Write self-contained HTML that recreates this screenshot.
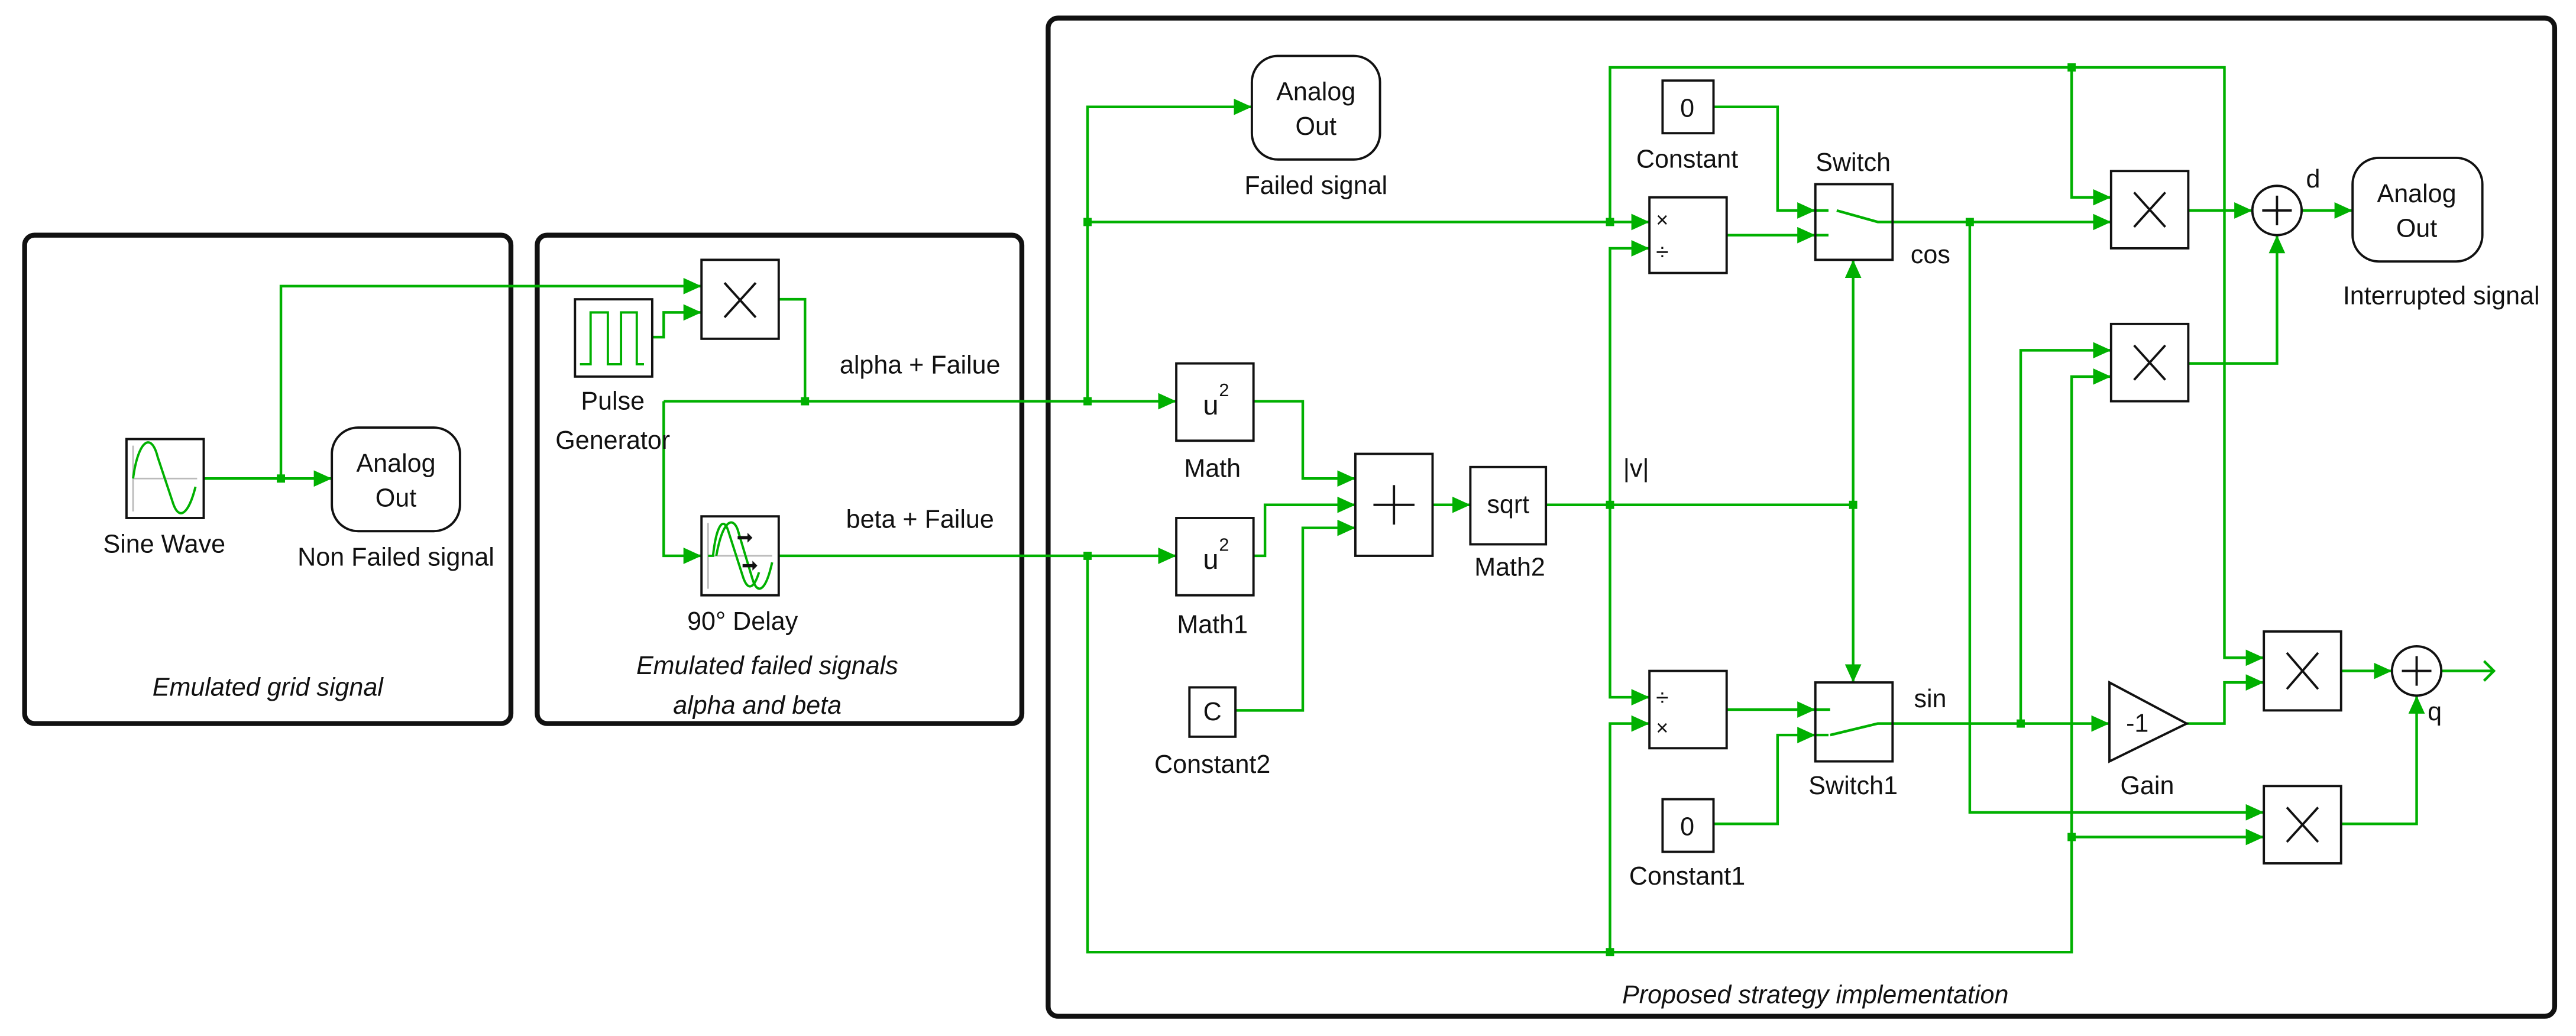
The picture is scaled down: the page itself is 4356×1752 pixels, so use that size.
<!DOCTYPE html>
<html><head><meta charset="utf-8"><style>
html,body{margin:0;padding:0;background:#fff;}
svg{display:block;}
text{font-family:"Liberation Sans",sans-serif;font-size:15.5px;fill:#111;}
.i{font-style:italic;}
</style></head><body>
<svg width="4356" height="1752" viewBox="0 0 1568 630" preserveAspectRatio="none" xmlns="http://www.w3.org/2000/svg">
<defs>
<marker id="a" markerWidth="11" markerHeight="10" refX="11" refY="5" orient="auto" markerUnits="userSpaceOnUse"><path d="M0,0 L11,5 L0,10z" fill="#00b000"/></marker>
</defs>
<rect width="1568" height="630" fill="#fff"/>
<g fill="none" stroke="#111" stroke-width="3">
<rect x="15" y="143" width="296" height="297" rx="6"/>
<rect x="327" y="143" width="295" height="297" rx="6"/>
<rect x="638" y="11" width="917" height="607" rx="6"/>
</g>
<g fill="none" stroke="#00b000" stroke-width="1.6">
<path d="M124,291 H202" marker-end="url(#a)"/>
<path d="M171,291 V174 H427" marker-end="url(#a)"/>
<path d="M397,205 H404 V190 H427" marker-end="url(#a)"/>
<path d="M474,182 H490 V244"/>
<path d="M404,244 H716" marker-end="url(#a)"/>
<path d="M404,244 V338 H427" marker-end="url(#a)"/>
<path d="M474,338 H716" marker-end="url(#a)"/>
<path d="M662,244 V65 H762" marker-end="url(#a)"/>
<path d="M662,135 H1004" marker-end="url(#a)"/>
<path d="M662,338 V579 H1261 V229 H1285" marker-end="url(#a)"/>
<path d="M1261,509 H1378" marker-end="url(#a)"/>
<path d="M980,579 V440 H1004" marker-end="url(#a)"/>
<path d="M763,244 H793 V291 H825" marker-end="url(#a)"/>
<path d="M763,338 H770 V307 H825" marker-end="url(#a)"/>
<path d="M752,432 H793 V321 H825" marker-end="url(#a)"/>
<path d="M872,307 H895" marker-end="url(#a)"/>
<path d="M941,307 H1128"/>
<path d="M980,307 V151 H1004" marker-end="url(#a)"/>
<path d="M980,307 V424 H1004" marker-end="url(#a)"/>
<path d="M980,135 V41 H1354 V400 H1378" marker-end="url(#a)"/>
<path d="M1261,41 V120 H1285" marker-end="url(#a)"/>
<path d="M1128,307 V158" marker-end="url(#a)"/>
<path d="M1128,307 V415" marker-end="url(#a)"/>
<path d="M1043,65 H1082 V128 H1105" marker-end="url(#a)"/>
<path d="M1051,143 H1105" marker-end="url(#a)"/>
<path d="M1152,135 H1285" marker-end="url(#a)"/>
<path d="M1199,135 V494 H1378" marker-end="url(#a)"/>
<path d="M1332,128 H1371" marker-end="url(#a)"/>
<path d="M1401,128 H1432" marker-end="url(#a)"/>
<path d="M1332,221 H1386 V143" marker-end="url(#a)"/>
<path d="M1051,431.5 H1105" marker-end="url(#a)"/>
<path d="M1043,501 H1082 V447 H1105" marker-end="url(#a)"/>
<path d="M1152,440 H1284" marker-end="url(#a)"/>
<path d="M1230,440 V213 H1285" marker-end="url(#a)"/>
<path d="M1331,440 H1354 V415 H1378" marker-end="url(#a)"/>
<path d="M1425,408 H1456" marker-end="url(#a)"/>
<path d="M1425,501 H1471 V423" marker-end="url(#a)"/>
<path d="M1486,408 H1518 M1512,402 L1518,408 L1512,414"/>
<path d="M1105,128 H1113 M1118,128 L1143,135 H1152 M1105,143 H1113"/>
<path d="M1105,431.5 H1114 M1105,447 H1113 M1114,447 L1143,440 H1152"/>
</g>
<g fill="#00b000">
<rect x="168.5" y="288.5" width="5" height="5"/>
<rect x="487.5" y="241.5" width="5" height="5"/>
<rect x="659.5" y="241.5" width="5" height="5"/>
<rect x="659.5" y="335.5" width="5" height="5"/>
<rect x="659.5" y="132.5" width="5" height="5"/>
<rect x="977.5" y="132.5" width="5" height="5"/>
<rect x="977.5" y="304.5" width="5" height="5"/>
<rect x="977.5" y="576.5" width="5" height="5"/>
<rect x="1125.5" y="304.5" width="5" height="5"/>
<rect x="1258.5" y="38.5" width="5" height="5"/>
<rect x="1258.5" y="506.5" width="5" height="5"/>
<rect x="1196.5" y="132.5" width="5" height="5"/>
<rect x="1227.5" y="437.5" width="5" height="5"/>
</g>
<g fill="none" stroke="#111" stroke-width="1.4">
<rect x="77" y="267" width="47" height="48"/>
<rect x="202" y="260" width="78" height="63" rx="16"/>
<rect x="350" y="182" width="47" height="47"/>
<rect x="427" y="158" width="47" height="48"/>
<rect x="427" y="314" width="47" height="48"/>
<rect x="762" y="34" width="78" height="63" rx="16"/>
<rect x="716" y="221" width="47" height="47"/>
<rect x="716" y="315" width="47" height="47"/>
<rect x="724" y="418" width="28" height="30"/>
<rect x="825" y="276" width="47" height="62"/>
<rect x="895" y="284" width="46" height="47"/>
<rect x="1004" y="120" width="47" height="46"/>
<rect x="1012" y="49" width="31" height="32"/>
<rect x="1105" y="112" width="47" height="46"/>
<rect x="1004" y="408" width="47" height="47"/>
<rect x="1012" y="486" width="31" height="32"/>
<rect x="1105" y="415" width="47" height="48"/>
<path d="M1284,415 L1331,440 L1284,463 Z"/>
<rect x="1285" y="104" width="47" height="47"/>
<rect x="1285" y="197" width="47" height="47"/>
<rect x="1378" y="384" width="47" height="48"/>
<rect x="1378" y="478" width="47" height="47"/>
<rect x="1432" y="96" width="79" height="63" rx="16"/>
<circle cx="1386" cy="128" r="15"/>
<circle cx="1471" cy="408" r="15"/>
<path d="M441,172 L460,193 M460,172 L441,193"/>
<path d="M1299,117 L1318,138 M1318,117 L1299,138"/>
<path d="M1299,210 L1318,231 M1318,210 L1299,231"/>
<path d="M1392,397 L1411,419 M1411,397 L1392,419"/>
<path d="M1392,491 L1411,512 M1411,491 L1392,512"/>
<path d="M836,307 H861 M848.5,295 V319"/>
<path d="M1377,128 H1395 M1386,119 V137"/>
<path d="M1462,408 H1480 M1471,399 V417"/>
</g>
<g fill="none" stroke="#bbb" stroke-width="1">
<path d="M81,271 V311 M81,291 H120"/>
<path d="M431,318 V358 M431,338 H470"/>
</g>
<g fill="none" stroke="#00b000" stroke-width="1.4">
<path d="M81,291 C84,268 92,262 96,278 L105,305 C109,318 115,312 119,296"/>
<path d="M353,221.5 H359.5 V190 H370 V221.5 H378 V190 H387.6 V221.5 H392"/>
<path d="M431,338 L434,338 C436,320 440,314 443,322 L452,350 C455,360 459,358 462,348"/>
<path d="M436,338 C440,316 446,314 449,322 L458,352 C461,362 466,360 470,342"/>
</g>
<g fill="#111">
<path d="M449,326 h6 v-2 l3,3 l-3,3 v-2 h-6z"/>
<path d="M452,343 h6 v-2 l3,3 l-3,3 v-2 h-6z"/>
</g>
<text x="241" y="287" text-anchor="middle">Analog</text>
<text x="241" y="308" text-anchor="middle">Out</text>
<text x="801" y="61" text-anchor="middle">Analog</text>
<text x="801" y="82" text-anchor="middle">Out</text>
<text x="1471" y="123" text-anchor="middle">Analog</text>
<text x="1471" y="144" text-anchor="middle">Out</text>
<text x="737" y="252" text-anchor="middle" style="font-size:17px">u</text><text x="742" y="241" style="font-size:11px">2</text>
<text x="737" y="346" text-anchor="middle" style="font-size:17px">u</text><text x="742" y="335" style="font-size:11px">2</text>
<text x="738" y="438" text-anchor="middle">C</text>
<text x="918" y="312" text-anchor="middle">sqrt</text>
<text x="1027" y="71" text-anchor="middle">0</text>
<text x="1027" y="508" text-anchor="middle">0</text>
<text x="1008" y="138" style="font-size:13px">×</text>
<text x="1008" y="158" style="font-size:14px">÷</text>
<text x="1008" y="429" style="font-size:14px">÷</text>
<text x="1008" y="447" style="font-size:13px">×</text>
<text x="1301" y="445" text-anchor="middle">-1</text>
<text x="100" y="336" text-anchor="middle">Sine Wave</text>
<text x="241" y="344" text-anchor="middle">Non Failed signal</text>
<text x="373" y="249" text-anchor="middle">Pulse</text>
<text x="373" y="273" text-anchor="middle">Generator</text>
<text x="560" y="227" text-anchor="middle">alpha + Failue</text>
<text x="560" y="321" text-anchor="middle">beta + Failue</text>
<text x="452" y="383" text-anchor="middle">90° Delay</text>
<text x="163" y="423" text-anchor="middle" class="i">Emulated grid signal</text>
<text x="467" y="410" text-anchor="middle" class="i">Emulated failed signals</text>
<text x="461" y="434" text-anchor="middle" class="i">alpha and beta</text>
<text x="801" y="118" text-anchor="middle">Failed signal</text>
<text x="738" y="290" text-anchor="middle">Math</text>
<text x="738" y="385" text-anchor="middle">Math1</text>
<text x="738" y="470" text-anchor="middle">Constant2</text>
<text x="919" y="350" text-anchor="middle">Math2</text>
<text x="988" y="290">|v|</text>
<text x="1027" y="102" text-anchor="middle">Constant</text>
<text x="1128" y="104" text-anchor="middle">Switch</text>
<text x="1163" y="160">cos</text>
<text x="1165" y="430">sin</text>
<text x="1128" y="483" text-anchor="middle">Switch1</text>
<text x="1027" y="538" text-anchor="middle">Constant1</text>
<text x="1307" y="483" text-anchor="middle">Gain</text>
<text x="1408" y="114" text-anchor="middle">d</text>
<text x="1486" y="185" text-anchor="middle">Interrupted signal</text>
<text x="1482" y="438" text-anchor="middle">q</text>
<text x="1105" y="610" text-anchor="middle" class="i">Proposed strategy implementation</text>
</svg>
</body></html>
